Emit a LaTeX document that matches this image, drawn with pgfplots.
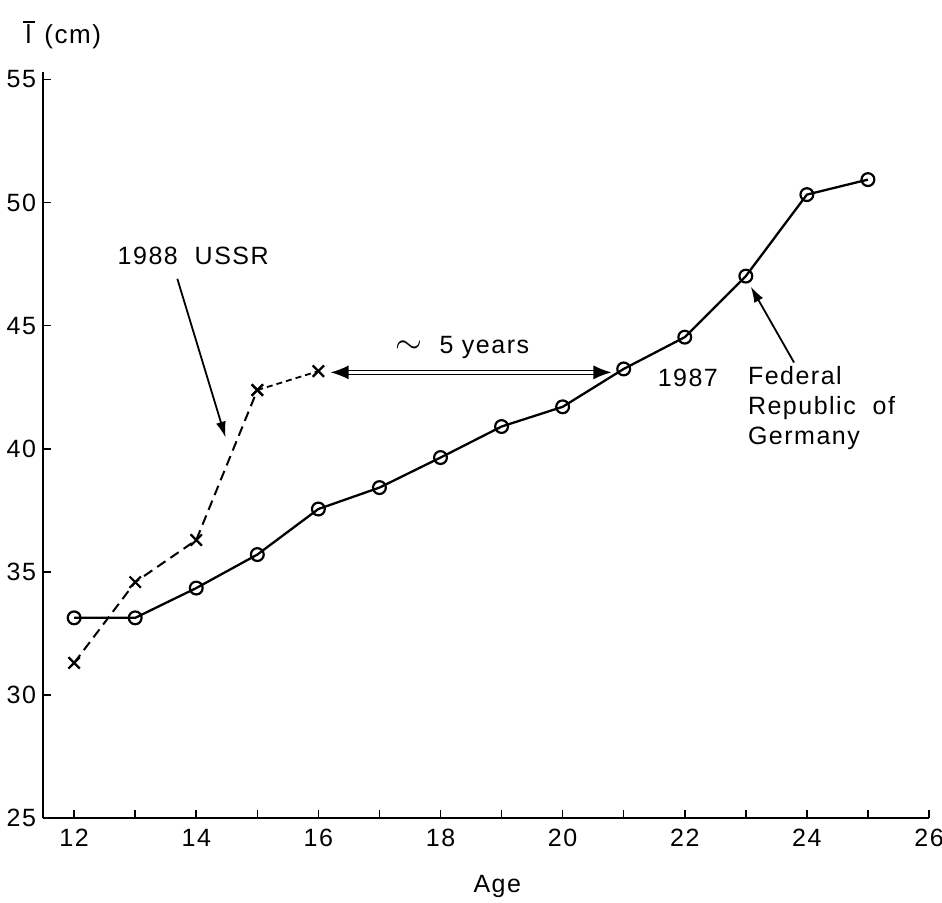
\documentclass[border=0pt]{standalone}
\usepackage{fontspec}
\setmainfont{Liberation Sans}[LetterSpace=6]
\usepackage{pgfplots}
\pgfplotsset{compat=1.18}
\usetikzlibrary{arrows.meta}

\begin{document}
\begin{tikzpicture}
  % page frame: the axis box is 443pt x 373pt with its lower left corner at (0,0)
  \useasboundingbox (-21.5pt,-42pt) rectangle (449.5pt,409pt);
  \begin{axis}[
      at={(0,0)}, anchor=south west,
      width=443pt, height=373pt, scale only axis,
      xmin=11.49, xmax=26, ymin=25, ymax=55.3,
      axis x line*=bottom, axis y line*=left,
      axis line style={line width=1pt},
      xtick={12,14,...,26}, minor xtick={13,15,...,25},
      ytick={25,30,...,55},
      tick align=inside, major tick length=4pt, minor tick length=4pt,
      tick style={line width=0.8pt, black},
      /pgf/number format/assume math mode=true,
      ticklabel style={font=\fontsize{12.5}{15}\selectfont},
      xticklabel style={yshift=-2pt},
      clip=false,
    ]
    % Federal Republic of Germany, 1987
    \addplot[black, line width=1.15pt, mark=o, mark size=3.2pt,
             mark options={solid, fill=white, line width=1.1pt}]
      coordinates {(12,33.13) (13,33.13) (14,34.34) (15,35.70) (16,37.55)
                   (17,38.42) (18,39.64) (19,40.90) (20,41.70) (21,43.24)
                   (22,44.53) (23,47.01) (24,50.32) (25,50.93)};
    % USSR, 1988 (finer dashes on the last step)
    \addplot[black, line width=1pt, dash pattern=on 5pt off 3pt,
             mark=x, mark size=4pt, mark options={solid, line width=1.1pt}]
      coordinates {(12,31.30) (13,34.58) (14,36.29) (15,42.38)};
    \addplot[black, line width=0.9pt, dash pattern=on 3pt off 2pt,
             mark=x, mark size=4pt, mark options={solid, line width=1.1pt}]
      coordinates {(15,42.38) (16,43.15)};

    \node[anchor=west, font=\fontsize{13}{15}\selectfont]
      at (axis cs:11.04,56.8)
      {\makebox[0pt][l]{\raisebox{10.5pt}{\rule{6pt}{0.8pt}}}\hspace*{1.5pt}l \,(cm)};
    \node[font=\fontsize{12.5}{15}\selectfont]
      at (axis cs:18.93,25) [yshift=-34pt] {Age};

    \node[font=\fontsize{12.5}{15}\selectfont] at (axis cs:13.95,47.85) {1988\ \ USSR};
    \draw[line width=0.9pt, -{Latex[length=8pt,width=5pt]}]
      (axis cs:13.69,46.9) -- (axis cs:14.48,40.45);

    \node[font=\fontsize{12.5}{15}\selectfont] at (axis cs:18.36,44.1)
      {{\fontsize{17}{17}\selectfont$\sim$}\ \ 5 years};
    \draw[double, double distance=1.4pt, line width=0.7pt,
          {Latex[length=9pt,width=7pt]}-{Latex[length=9pt,width=7pt]}]
      (axis cs:16.2,43.1) -- (axis cs:20.8,43.1);

    \node[font=\fontsize{12.5}{15}\selectfont] at (axis cs:22.05,42.89) {1987};
    \node[anchor=west, align=left, font=\fontsize{12.5}{15}\selectfont]
      at (axis cs:22.92,41.67) {Federal\\Republic\ \ of\\Germany};
    \draw[line width=0.9pt, -{Latex[length=8pt,width=5pt]}]
      (axis cs:23.79,43.5) -- (axis cs:23.08,46.59);
  \end{axis}
\end{tikzpicture}
\end{document}
